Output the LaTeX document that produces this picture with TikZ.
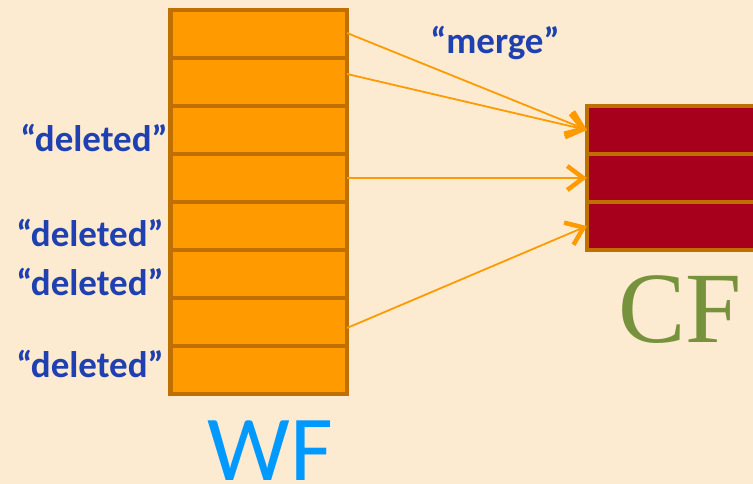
\documentclass[tikz,border=0pt]{standalone}
\usepackage{fontspec}
\setmainfont{Carlito}
\newfontfamily\serifcf{Liberation Serif}
\usetikzlibrary{arrows.meta}
\definecolor{bgpeach}{HTML}{FDEBD1}
\definecolor{wffill}{HTML}{FF9A00}
\definecolor{rimbrown}{HTML}{BF7000}
\definecolor{cffill}{HTML}{A6001C}
\definecolor{linkorange}{HTML}{FF9A00}
\definecolor{notblue}{HTML}{1E40B0}
\definecolor{wfblue}{HTML}{0099FF}
\definecolor{cfgreen}{HTML}{76923C}
\tikzset{
  wfrow/.style={draw=rimbrown, fill=wffill, line width=4.8pt, minimum width=176.5pt,
    minimum height=48pt, inner sep=0pt, outer sep=0pt},
  cfrow/.style={draw=rimbrown, fill=cffill, line width=4.8pt, minimum width=200pt,
    minimum height=48pt, inner sep=0pt, outer sep=0pt},
  link/.style={draw=linkorange, line width=1.8pt,
    -{Straight Barb[length=16pt,width=24pt,line width=4.5pt]}},
  note/.style={text=notblue, font=\fontsize{37}{40}\selectfont\bfseries, inner sep=0pt},
}
\begin{document}
\begin{tikzpicture}[x=1pt,y=-1pt]
  \fill[bgpeach] (0,0) rectangle (753,484);
  \useasboundingbox (0,0) rectangle (753,484);
  \clip (0,0) rectangle (753,484);
  % write-friendly file: eight blocks
  \foreach \i in {1,...,8}
    \node[wfrow] (w\i) at (258.75, {10+48*(\i-0.5)}) {};
  % compacted file: three blocks running off the right edge
  \foreach \i in {1,2,3}
    \node[cfrow] (c\i) at (687, {106+48*(\i-0.5)}) {};
  % copy links
  \draw[link] ([yshift=1pt]w1.east) -- (c1.west);
  \draw[link] ([yshift=8pt]w2.east) -- (c1.west);
  \draw[link] (w4.east) -- (c2.west);
  \draw[link] ([yshift=-6pt]w7.east) -- (c3.west);
  % labels
  \node[note, anchor=base] (mergelbl) at (495,54) {“merge”};
  \node[note, anchor=base east] (del3) at (168,152) {“deleted”};
  \node[note, anchor=base east] (del5) at (164,247) {“deleted”};
  \node[note, anchor=base east] (del6) at (164,295) {“deleted”};
  \node[note, anchor=base east] (del8) at (164,377) {“deleted”};
  \node[text=wfblue, font=\fontsize{93}{100}\selectfont, inner sep=0pt, text depth=0pt, anchor=base] (wflbl) at (270.5,480) {WF};
  \node[text=cfgreen, font=\serifcf\fontsize{101}{110}\selectfont, inner sep=0pt, anchor=base] (cflbl) at (680,342) {CF};
\end{tikzpicture}
\end{document}
